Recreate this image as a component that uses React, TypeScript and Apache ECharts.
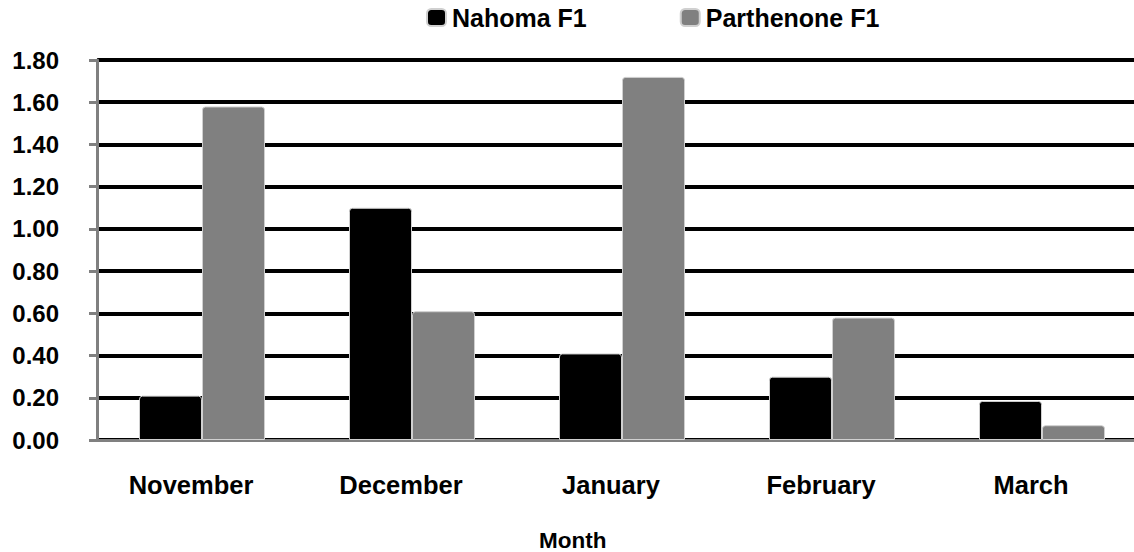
import React, { useEffect, useRef } from "react";
import * as echarts from "echarts";

const categories = ["November", "December", "January", "February", "March"];
const nahoma = [0.21, 1.1, 0.41, 0.3, 0.185];
const parthenone = [1.58, 0.61, 1.72, 0.58, 0.07];
const seriesNames = ["Nahoma F1", "Parthenone F1"];
const xAxisTitle = "Month";

const FONT = "'Liberation Sans', Arial, sans-serif";

export default function App() {
  const ref = useRef<HTMLDivElement>(null);
  useEffect(() => {
    if (!ref.current) return;
    const chart = echarts.init(ref.current, undefined, { renderer: "svg" });
    chart.setOption({
      animation: false,
      backgroundColor: "#ffffff",
      textStyle: { fontFamily: FONT },
      legend: {
        left: 426,
        top: 5,
        padding: 0,
        itemWidth: 19,
        itemHeight: 17,
        itemGap: 93,
        icon: "roundRect",
        textStyle: { fontSize: 25, fontWeight: "bold", color: "#000", fontFamily: FONT, padding: [0, 0, 0, 1] },
        data: seriesNames,
      },
      grid: { left: 97, right: 0, top: 60, bottom: 112, containLabel: false },
      xAxis: {
        type: "category",
        data: categories,
        axisLine: { show: true, lineStyle: { color: "#808080", width: 3 } },
        axisTick: { show: false },
        axisLabel: {
          fontSize: 25.5,
          fontWeight: "bold",
          color: "#000",
          margin: 32,
          fontFamily: FONT,
          padding: [0, 22, 0, 0],
        },
      },
      yAxis: {
        type: "value",
        min: 0,
        max: 1.8,
        interval: 0.2,
        axisLine: { show: true, lineStyle: { color: "#808080", width: 3 } },
        axisTick: { show: true, length: 8, lineStyle: { color: "#808080", width: 3 } },
        axisLabel: {
          fontSize: 24,
          fontWeight: "bold",
          color: "#000",
          margin: 38,
          fontFamily: FONT,
          formatter: (v: number) => v.toFixed(2),
        },
        splitLine: { show: true, lineStyle: { color: "#000", width: 4 } },
      },
      graphic: [
        {
          type: "text",
          left: 539,
          top: 529,
          style: { text: xAxisTitle, fontSize: 22.5, fontWeight: "bold", fill: "#000", fontFamily: FONT },
        },
      ],
      series: [
        {
          name: seriesNames[0],
          type: "bar",
          data: nahoma,
          barWidth: 63,
          barGap: "0%",
          itemStyle: { color: "#000000", borderColor: "#d0d0d0", borderWidth: 1, borderRadius: [3, 3, 0, 0] },
        },
        {
          name: seriesNames[1],
          type: "bar",
          data: parthenone,
          barWidth: 63,
          barGap: "0%",
          itemStyle: { color: "#808080", borderColor: "#d0d0d0", borderWidth: 1, borderRadius: [3, 3, 0, 0] },
        },
      ],
    });
    return () => chart.dispose();
  }, []);
  return (
    <div
      ref={ref}
      style={{ position: "fixed", left: 0, top: 0, width: 1147, height: 552 }}
    />
  );
}
